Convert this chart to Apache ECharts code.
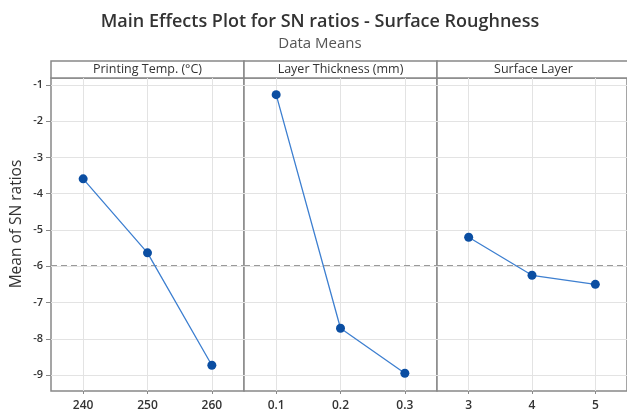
<!DOCTYPE html>
<html><head><meta charset="utf-8">
<script src="https://cdn.jsdelivr.net/npm/echarts@6/dist/echarts.min.js"></script>
<style>html,body{margin:0;padding:0;background:#fff}#c{width:627px;height:412px}</style>
</head><body><div id="c"></div>
<script>
const panelNames = ['Printing Temp. (°C)', 'Layer Thickness (mm)', 'Surface Layer'];
const tempLevels = [240, 250, 260];
const thicknessLevels = [0.1, 0.2, 0.3];
const surfaceLevels = [3, 4, 5];
const tempSN = [-3.59, -5.63, -8.73];
const thicknessSN = [-1.27, -7.71, -8.95];
const surfaceSN = [-5.20, -6.25, -6.50];
const yTicks = [-1, -2, -3, -4, -5, -6, -7, -8, -9];

const levels = [tempLevels, thicknessLevels, surfaceLevels];
const values = [tempSN, thicknessSN, surfaceSN];
const allVals = [].concat(tempSN, thicknessSN, surfaceSN);
const overallMean = allVals.reduce((a, b) => a + b, 0) / allVals.length;

const FONT = 'Open Sans';
const panelLeft = [51, 244, 437];
const panelW = 193;
const gridTop = 78, gridH = 314, headTop = 61;

const grids = [], xAxes = [], yAxes = [], series = [], graphics = [];
for (let i = 0; i < 3; i++) {
  const lv = levels[i];
  const step = lv[1] - lv[0];
  grids.push({left: panelLeft[i], top: gridTop, width: panelW, height: gridH,
    show: true, borderColor: '#888', borderWidth: 1.5, backgroundColor: '#fff'});
  xAxes.push({type: 'value', gridIndex: i, min: lv[0] - step / 2, max: lv[2] + step / 2,
    axisLine: {show: false},
    axisTick: {show: true, length: 3, customValues: lv, lineStyle: {color: '#888'}},
    axisLabel: {customValues: lv, color: '#333', fontSize: 12, fontWeight: 600, fontFamily: FONT, margin: 9},
    splitLine: {show: true, lineStyle: {color: '#e3e3e3', width: 1}}});
  yAxes.push({type: 'value', gridIndex: i, min: -9.44, max: -0.81,
    axisLine: {show: false},
    axisTick: {show: i === 0, length: 5, customValues: yTicks, lineStyle: {color: '#888'}},
    axisLabel: {show: i === 0, customValues: yTicks, color: '#333', fontSize: 11, fontWeight: 600, fontFamily: FONT, margin: 8},
    splitLine: {show: true, lineStyle: {color: '#e3e3e3', width: 1}}});
  series.push({type: 'line', xAxisIndex: i, yAxisIndex: i,
    data: lv.map((x, k) => [x, values[i][k]]),
    symbol: 'circle', symbolSize: 9,
    lineStyle: {color: '#3d7fd0', width: 1.3},
    itemStyle: {color: '#0b4ea2'},
    markLine: {silent: true, symbol: 'none', label: {show: false},
      lineStyle: {color: '#9a9a9a', type: [6, 4], width: 1},
      data: [{yAxis: overallMean}]},
    z: 5});
  graphics.push({type: 'rect', shape: {x: panelLeft[i], y: headTop, width: panelW, height: gridTop - headTop},
    style: {fill: '#fff', stroke: '#888', lineWidth: 1.5}});
  graphics.push({type: 'text', x: panelLeft[i] + panelW / 2, y: (headTop + gridTop) / 2,
    style: {text: panelNames[i], fill: '#333', font: '12.5px "Open Sans"', textAlign: 'center', textVerticalAlign: 'middle'}});
}
graphics.push({type: 'text', x: 17, y: 224, rotation: Math.PI / 2,
  style: {text: 'Mean of SN ratios', fill: '#333', font: '15.5px "Open Sans"', textAlign: 'center', textVerticalAlign: 'middle'}});

const chart = echarts.init(document.getElementById('c'));
chart.setOption({
  backgroundColor: '#fff',
  animation: false,
  title: {text: 'Main Effects Plot for SN ratios - Surface Roughness', subtext: 'Data Means',
    left: 315, top: 8, itemGap: 5, textAlign: 'center',
    textStyle: {color: '#333', fontSize: 18, fontWeight: 600, fontFamily: FONT},
    subtextStyle: {color: '#555', fontSize: 15, fontFamily: FONT}},
  grid: grids, xAxis: xAxes, yAxis: yAxes, series: series,
  graphic: graphics
});
</script></body></html>
